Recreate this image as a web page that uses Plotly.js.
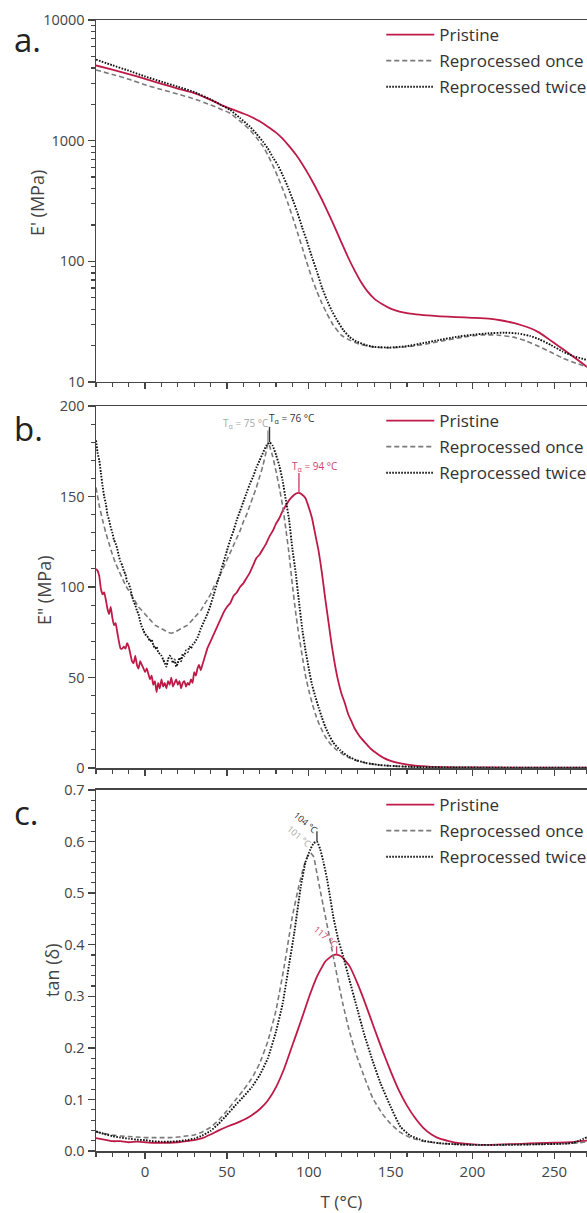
<!DOCTYPE html>
<html>
<head>
<meta charset="utf-8">
<script src="https://cdn.plot.ly/plotly-3.0.1.min.js"></script>
<style>html,body{margin:0;padding:0;background:#fff;}#chart{width:587px;height:1213px;}</style>
</head>
<body>
<div id="chart"></div>
<script>
// ---------- Series names ----------
const seriesNames = ["Pristine", "Reprocessed once", "Reprocessed twice"];

// ---------- Panel a: storage modulus E' (MPa) ----------
const tA_pristine = [-30,-20,-10,0,10,20,30,40,46,50,55,60,65,70,75,80,84,88,92,96,100,104,108,112,116,120,124,128,132,136,140,145,150,156,162,170,180,190,200,210,218,225,230,235,240,245,250,255,260,265,270];
const eStorage_pristine = [4200,3870,3560,3250,2960,2700,2480,2180,1990,1890,1780,1680,1570,1445,1305,1165,1040,900,770,640,520,415,325,250,190,143,108,84,67,56,49,44,40.5,38,36.8,35.8,35,34.5,34,33.5,32.3,30.8,29.5,28,26,23.5,21,18.8,16.8,15,13.3];
const tA_once = [-30,-20,-10,0,10,20,30,40,46,52,58,64,68,72,75,78,81,84,87,90,93,96,99,102,105,108,111,115,120,125,131,137,145,155,165,175,185,195,205,215,225,233,241,248,255,262,270];
const eStorage_once = [3850,3540,3230,2900,2650,2430,2220,1980,1830,1686,1450,1230,1060,900,760,625,505,400,310,235,175,130,96,72,56,45,37,29.5,24.3,22.2,20.6,19.7,19.2,19.3,19.9,21,22.3,23.6,24.5,24.5,23.5,21.8,19.6,17.6,15.8,14.5,13.3];
const tA_twice = [-30,-20,-10,0,10,20,30,40,46,52,58,64,68,72,75,78,81,84,87,90,93,96,99,102,105,108,111,114,117,121,125,129,135,140,150,160,170,180,190,200,210,220,228,235,241,248,255,262,270];
const eStorage_twice = [4700,4220,3800,3400,3080,2800,2530,2200,1990,1795,1540,1307,1140,980,860,730,630,520,420,330,255,190,145,108,82,61,48,39,33,27,23.5,21.7,20.2,19.5,19.3,19.8,21,22.3,23.6,24.6,25.3,25.6,25.2,24.1,22.5,20.2,17.9,16.3,15.2];

// ---------- Panel b: loss modulus E'' (MPa) ----------
const tB_pristine = [-30,-29,-28,-27,-26,-25,-24,-23,-22,-21,-20,-19,-18,-17,-16,-15,-14,-13,-12,-11,-10,-9,-8,-7,-6,-5,-4,-3,-2,-1,0,1,2,3,4,5,6,7,8,9,10,11,12,13,14,15,16,17,18,19,20,21,22,23,24,25,26,27,28,29,30,31,32,33,34,35,36,37,38,39,40,42,44,46,48,50,52,54,56,58,60,62,64,66,68,70,72,74,76,78,80,82,84,86,88,90,92,94,96,98,100,102,104,106,108,110,112,114,116,118,120,122,124,126,128,130,132,135,138,142,146,150,156,165,175,190,210,240,270];
const eLoss_pristine = [110,109,106,99,96,97,93,88,85,89,83,79,80,75,70,66,66,67,66,69,67,63,59,58,62,57,55,59,57,55,53,55,52,49,51,46,48,42,47,44,49,45,47,44,48,46,50,45,47,49,46,48,44,47,48,45,47,46,49,47,53,51,55,57,54,57,60,63,66,68,70,74,78,82,86,89,91,95,97,100,102,105,108,112,116,118,121,124,128,131,135,138,142,145,148,150,151.5,152,151,149,144,138,129,120,108,94,81,68,57,48,41,36,30,26,22,19,16.5,13.5,10.5,7.8,5.5,4,2.6,1.3,0.7,0.4,0.3,0.2,0.2];
const tB_once = [-30,-28,-26,-24,-22,-20,-18,-16,-14,-12,-10,-8,-6,-4,-2,0,2,4,6,8,10,12,14,16,18,20,22,24,26,28,30,32,34,36,38,40,42,44,46,48,50,52,54,56,58,60,62,64,66,68,70,72,74,75,76,78,80,82,84,86,88,90,92,94,96,98,100,102,104,106,108,110,113,117,121,125,130,136,145,160,190,230,270];
const eLoss_once = [155,145,137,130,124,118,113,109,105,101,98,95,92,89,87,85,83,81,79,78,77,76,75,74.5,75,76,77,78,79,81,83,85,87,90,93,96,100,103,107,111,115,119,123,127,131,136,140,145,150,155,161,167,175,179.5,178,172,164,155,145,132,118,101,86,73,62,51,43,36,30,25,21,17.5,13.5,10,7.5,5.5,3.8,2.6,1.5,0.7,0.3,0.2,0.2];
const tB_twice = [-30,-29,-28,-27,-26,-25,-24,-23,-22,-21,-20,-19,-18,-17,-16,-15,-14,-13,-12,-11,-10,-9,-8,-7,-6,-5,-4,-3,-2,-1,0,1,2,3,4,5,6,7,8,9,10,11,12,13,14,15,16,17,18,19,20,21,22,23,24,25,26,27,28,29,30,32,34,36,38,40,42,44,46,48,50,52,54,56,58,60,62,64,66,68,70,72,74,76,78,80,82,84,86,88,90,92,94,96,98,100,102,104,106,108,110,112,115,119,124,129,135,142,150,165,190,230,270];
const eLoss_twice = [181,174,170,163,156,150,146,140,137,133,130,126,124,121,117,114,112,109,107,103,102,99,95,92,90,87,85,81,78,76,74,73,72,70,71,68,66,67,64,63,62,60,58,56,60,62,61,58,60,56,58,61,59,63,62,65,64,67,66,68,69,72,77,81,85,90,96,102,108,114,120,126,131,137,142,147,152,157,161,166,170,174,178,180,178,173,167,159,148,137,121,108,92,77,65,55,46,39.5,33.5,28,23,19,14,10,6.5,4.4,2.8,1.8,1.2,0.6,0.3,0.2,0.2];

// ---------- Panel c: tan(delta) ----------
const tC_pristine = [-30,-25,-20,-15,-10,-5,0,5,10,15,20,25,30,35,40,45,50,55,60,65,70,75,80,85,90,95,100,105,110,114,117,120,125,130,135,140,145,150,155,160,165,170,175,180,190,200,210,220,230,240,250,260,270];
const tanD_pristine = [0.025,0.022,0.019,0.019,0.017,0.018,0.017,0.016,0.016,0.016,0.017,0.019,0.021,0.025,0.032,0.040,0.047,0.053,0.060,0.069,0.081,0.098,0.124,0.160,0.205,0.250,0.297,0.338,0.367,0.378,0.381,0.377,0.358,0.323,0.282,0.238,0.195,0.155,0.118,0.088,0.064,0.045,0.032,0.024,0.016,0.013,0.012,0.013,0.014,0.015,0.016,0.017,0.020];
const tC_once = [-30,-25,-20,-15,-10,-5,0,5,10,15,20,25,30,35,40,45,50,55,60,65,70,75,80,85,90,94,97,99,101,103,105,107,109,112,115,118,121,125,129,134,139,145,150,156,162,170,180,190,200,220,240,255,265,270];
const tanD_once = [0.037,0.034,0.031,0.029,0.028,0.027,0.026,0.026,0.026,0.026,0.027,0.029,0.031,0.037,0.046,0.060,0.078,0.098,0.118,0.140,0.170,0.213,0.273,0.358,0.455,0.515,0.552,0.570,0.578,0.570,0.538,0.505,0.473,0.425,0.377,0.328,0.283,0.230,0.187,0.143,0.103,0.072,0.053,0.036,0.026,0.019,0.015,0.013,0.012,0.012,0.013,0.014,0.016,0.018];
const tC_twice = [-30,-25,-20,-15,-10,-5,0,5,10,15,20,25,30,35,40,45,50,55,60,65,70,75,80,84,88,91,95,98,101,103,105,107,109,111,113,115,118,121,125,129,134,139,144,150,156,162,170,180,190,200,220,240,255,262,266,270];
const tanD_twice = [0.038,0.033,0.029,0.026,0.024,0.022,0.021,0.019,0.018,0.018,0.019,0.021,0.024,0.030,0.039,0.053,0.070,0.088,0.105,0.123,0.147,0.180,0.232,0.285,0.362,0.420,0.510,0.560,0.585,0.597,0.600,0.585,0.560,0.530,0.493,0.454,0.410,0.378,0.330,0.283,0.225,0.175,0.130,0.086,0.047,0.030,0.020,0.015,0.013,0.012,0.012,0.013,0.014,0.016,0.021,0.027];

// ---------- Tick labels / text ----------
const xTickLabels = [0, 50, 100, 150, 200, 250];
const logTickVals = [10, 100, 1000, 10000];
const logTickText = ["10", "100", "1000", "10000"];
const peakLabelsB = ["T<sub>α</sub> = 94 °C", "T<sub>α</sub> = 75 °C", "T<sub>α</sub> = 76 °C"];
const peakLabelsC = ["117 °C", "101 °C", "104 °C"];
const panelLetters = ["a.", "b.", "c."];
const yTitles = ["E' (MPa)", 'E" (MPa)', "tan (δ)"];
const xTitle = "T (°C)";

// ---------- Styles ----------
const FONT = "Open Sans, Noto Sans, sans-serif";
const AX = "#454545";
const colors = ["#BE1A48", "#7a7a7a", "#111111"];
const dashes = ["solid", "5px,3px", "1.6px,1.4px"];
const widths = [1.8, 1.6, 1.9];

const panels = [
  {xs: [tA_pristine, tA_once, tA_twice], ys: [eStorage_pristine, eStorage_once, eStorage_twice], xa: "x", ya: "y", leg: "legend"},
  {xs: [tB_pristine, tB_once, tB_twice], ys: [eLoss_pristine, eLoss_once, eLoss_twice], xa: "x2", ya: "y2", leg: "legend2"},
  {xs: [tC_pristine, tC_once, tC_twice], ys: [tanD_pristine, tanD_once, tanD_twice], xa: "x3", ya: "y3", leg: "legend3"}
];

const traces = [];
panels.forEach(p => {
  for (let i = 0; i < 3; i++) {
    traces.push({
      type: "scatter", mode: "lines",
      x: p.xs[i], y: p.ys[i], name: seriesNames[i],
      xaxis: p.xa, yaxis: p.ya, legend: p.leg,
      legendgroup: p.leg + "_" + i,
      line: {color: colors[i], width: widths[i], dash: dashes[i], shape: "spline", smoothing: 0.4},
      hoverinfo: "skip"
    });
  }
});

// Domains (paper fractions): plot area spans y=20..1151 px
const PT = 20, PB = 1151, PH = PB - PT;
const domA = [0.680, 1.0], domB = [0.3386, 0.6587], domC = [0.0, 0.3192];

function xAxis(anchor, showLabels) {
  return {
    anchor: anchor, domain: [0, 1], range: [-30, 270],
    showticklabels: showLabels, tickmode: "array", tickvals: xTickLabels,
    ticks: "outside", ticklen: 6, tickwidth: 1.3, tickcolor: AX,
    minor: {ticks: "outside", ticklen: 4, tickwidth: 1.1, tickcolor: AX, dtick: 10, tick0: 0},
    showline: true, linecolor: AX, linewidth: 1.5, mirror: true,
    showgrid: false, zeroline: false,
    tickfont: {family: FONT, size: 15, color: "#444"}
  };
}
function yBase(anchor, domain) {
  return {
    anchor: anchor, domain: domain,
    ticks: "outside", ticklen: 7, tickwidth: 1.3, tickcolor: AX,
    showline: true, linecolor: AX, linewidth: 1.5, mirror: false,
    showgrid: false, zeroline: false,
    tickfont: {family: FONT, size: 14.5, color: "#444"}
  };
}

const minorLog = [];
[10, 100, 1000].forEach(d => { for (let k = 2; k <= 9; k++) minorLog.push(k * d); });

const yA = Object.assign(yBase("x", domA), {
  type: "log", range: [1, 4], tickmode: "array", tickvals: logTickVals, ticktext: logTickText,
  minor: {ticks: "outside", ticklen: 4, tickwidth: 1.1, tickcolor: AX, tickmode: "array", tickvals: minorLog}
});
const yB = Object.assign(yBase("x2", domB), {
  range: [0, 200], tick0: 0, dtick: 50,
  minor: {ticks: "outside", ticklen: 4, tickwidth: 1.1, tickcolor: AX, dtick: 10, tick0: 0}
});
const yC = Object.assign(yBase("x3", domC), {
  range: [0, 0.7], tick0: 0, dtick: 0.1, tickformat: ".1f",
  minor: {ticks: "outside", ticklen: 4, tickwidth: 1.1, tickcolor: AX, dtick: 0.02, tick0: 0}
});

const x3 = xAxis("y3", true);
x3.title = {text: xTitle, font: {family: FONT, size: 17, color: "#444"}, standoff: 20};

function legendAt(ytop) {
  return {
    x: 0.581, y: ytop + 3 / PH, xanchor: "left", yanchor: "top",
    bgcolor: "rgba(0,0,0,0)", borderwidth: 0,
    font: {family: FONT, size: 17, color: "#333"},
    itemwidth: 48, traceorder: "grouped", tracegroupgap: 1
  };
}

// Peak finder on the data arrays (only beyond the low-temperature region)
function peak(xs, ys, fromX) {
  let k = -1;
  for (let i = 0; i < ys.length; i++) {
    if (xs[i] < fromX) continue;
    if (k < 0 || ys[i] > ys[k]) k = i;
  }
  return [xs[k], ys[k]];
}

const shapes = [];
const annotations = [];
const labelColors = ["#D0406A", "#A8A8A8", "#333333"];

// Panel b peak labels
const bOffsets = [{dx: 16, dy: 26, len: 11}, {dx: -22, dy: 20, len: 7}, {dx: 22, dy: 24, len: 8.5}];
for (let i = 0; i < 3; i++) {
  const [px, py] = peak(panels[1].xs[i], panels[1].ys[i], 40);
  shapes.push({type: "line", xref: "x2", yref: "y2", x0: px, x1: px, y0: py, y1: py + bOffsets[i].len,
    line: {color: i === 1 ? "#999" : labelColors[i], width: 1.4}});
  annotations.push({xref: "x2", yref: "y2", x: px, y: py, xshift: bOffsets[i].dx, yshift: bOffsets[i].dy,
    text: peakLabelsB[i], showarrow: false, font: {family: FONT, size: 10, color: labelColors[i]}});
}
// Panel c peak labels
const cOffsets = [{dx: -11, dy: 18, len: 0.016}, {dx: -11, dy: 16, len: 0.0}, {dx: -11, dy: 19, len: 0.02}];
for (let i = 0; i < 3; i++) {
  const [px, py] = peak(panels[2].xs[i], panels[2].ys[i], 40);
  if (cOffsets[i].len > 0) {
    shapes.push({type: "line", xref: "x3", yref: "y3", x0: px, x1: px, y0: py, y1: py + cOffsets[i].len,
      line: {color: labelColors[i], width: 1.3}});
  }
  annotations.push({xref: "x3", yref: "y3", x: px, y: py, xshift: cOffsets[i].dx, yshift: cOffsets[i].dy,
    text: peakLabelsC[i], textangle: 40, showarrow: false, font: {family: FONT, size: 9, color: labelColors[i]}});
}
// Panel letters and y titles (paper coords from pixel positions)
const px2x = px => (px - 96) / 491;
const py2y = py => (PB - py) / PH;
const letterPy = [40, 428, 812];
panelLetters.forEach((t, i) => {
  annotations.push({xref: "paper", yref: "paper", x: px2x(12), y: py2y(letterPy[i]), xanchor: "left", yanchor: "middle",
    text: t, showarrow: false, font: {family: FONT, size: 33, color: "#222"}});
});
const titlePx = [37, 44, 52], titlePy = [203, 590, 970];
yTitles.forEach((t, i) => {
  annotations.push({xref: "paper", yref: "paper", x: px2x(titlePx[i]), y: py2y(titlePy[i]), xanchor: "center", yanchor: "middle",
    text: t, textangle: -90, showarrow: false, font: {family: FONT, size: 18, color: "#444"}});
});

const layout = {
  width: 587, height: 1213,
  margin: {l: 96, r: 0, t: 20, b: 62, autoexpand: false},
  paper_bgcolor: "#ffffff", plot_bgcolor: "#ffffff",
  showlegend: true,
  xaxis: xAxis("y", false), xaxis2: xAxis("y2", false), xaxis3: x3,
  yaxis: yA, yaxis2: yB, yaxis3: yC,
  legend: legendAt(domA[1]), legend2: legendAt(domB[1]), legend3: legendAt(domC[1]),
  shapes: shapes, annotations: annotations
};

Plotly.newPlot("chart", traces, layout, {displayModeBar: false, staticPlot: true});
</script>
</body>
</html>
